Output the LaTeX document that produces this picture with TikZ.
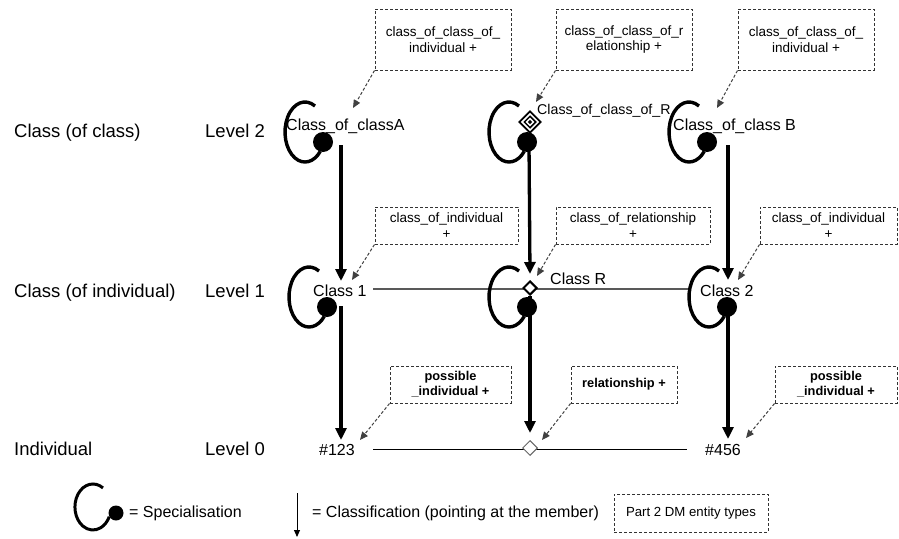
\documentclass[tikz,border=0pt]{standalone}
\usepackage{fontspec}
\setmainfont{Liberation Sans}
\usetikzlibrary{arrows.meta,shapes.geometric}
\begin{document}
\begin{tikzpicture}[x=1pt,y=-1pt,
  spec/.pic={\fill (0,0) circle (10);
    \draw[line width=3.4pt] (-8,-35.98) arc[start angle=-60,end angle=-320,x radius=20,y radius=30];},
  lbl/.style={font=\fontsize{18.5}{21}\selectfont, inner sep=0pt, anchor=base west},
  cls/.style={font=\fontsize{16}{19}\selectfont, inner sep=0pt, anchor=base west},
  dbox/.style={draw=black!80, dash pattern=on 3pt off 2pt, line width=1pt, align=center, inner sep=0pt, font=\fontsize{13.5}{15.5}\selectfont},
  bbox/.style={dbox, font=\fontsize{12.8}{15}\selectfont\bfseries},
  darrow/.style={draw=black!75, dash pattern=on 3pt off 2pt, line width=1pt, -{Triangle[length=8pt,width=7pt]}},
  clsarrow/.style={line width=3.3pt, -{Triangle[length=12pt,width=11pt]}},
  dia/.style={diamond, draw, inner sep=0pt, fill=white}
]
\useasboundingbox (0,0) rectangle (899,538);

% left labels
\node[lbl] (l2a) at (14,137) {Class (of class)};
\node[lbl] (l2b) at (205,137) {Level 2};
\node[lbl] (l1a) at (14,297) {Class (of individual)};
\node[lbl] (l1b) at (205,297) {Level 1};
\node[lbl] (l0a) at (14,455) {Individual};
\node[lbl] (l0b) at (205,455) {Level 0};

% coordinates
\coordinate (a1s) at (341,145); \coordinate (a1e) at (341,281);
\coordinate (b1s) at (341,306); \coordinate (b1e) at (341,440);
\coordinate (a2s) at (529,143); \coordinate (a2e) at (530,274);
\coordinate (b2s) at (530,296); \coordinate (b2e) at (530,433);
\coordinate (a3s) at (728,145); \coordinate (a3e) at (728,280);
\coordinate (b3s) at (728,307); \coordinate (b3e) at (728,439);
\coordinate (h1a) at (373,289); \coordinate (h1b) at (688,289);
\coordinate (h0a) at (373,449); \coordinate (h0b) at (687,449);

% horizontal relation lines
\draw[black!65, line width=1.2pt] (h1a) -- (h1b);
\draw[black, line width=0.9pt] (h0a) -- (h0b);

% specialisation symbols
\pic at (323,142) {spec};
\pic at (527,142) {spec};
\pic at (707,142) {spec};
\pic at (327,307) {spec};
\pic at (527,307) {spec};
\pic at (727,307) {spec};

% classification arrows
\draw[clsarrow] (a1s) -- (a1e);
\draw[clsarrow] (b1s) -- (b1e);
\draw[clsarrow] (a2s) -- (a2e);
\draw[clsarrow] (b2s) -- (b2e);
\draw[clsarrow] (a3s) -- (a3e);
\draw[clsarrow] (b3s) -- (b3e);

% diamonds
\node[dia, line width=1.8pt, minimum width=22pt, minimum height=22pt] (rr) at (530,122) {};
\node[dia, line width=1.5pt, minimum width=12pt, minimum height=12pt] (rri) at (rr) {};
\node[diamond, fill, inner sep=0pt, minimum width=4.5pt, minimum height=4.5pt] (rrc) at (rr) {};
\node[dia, line width=2pt, minimum width=14pt, minimum height=14pt] (r1) at (530,288) {};
\node[dia, draw=black!60, line width=1pt, minimum width=15pt, minimum height=15pt] (r0) at (530,448) {};

% class labels
\node[cls] (cA) at (286,130) {Class\_of\_classA};
\node[cls] (cB) at (673,130) {Class\_of\_class B};
\node[cls, font=\fontsize{14.2}{17}\selectfont] (cR) at (537,114) {Class\_of\_class\_of\_R};
\node[cls] (c1) at (313,296) {Class 1};
\node[cls] (c2) at (700,296) {Class 2};
\node[cls] (cr) at (550,284) {Class R};
\node[cls] (i1) at (319,455) {\#123};
\node[cls] (i2) at (705,455) {\#456};

% entity type boxes
\node[dbox, minimum width=136pt, minimum height=61pt] (t1) at (443,39.5) {class\_of\_class\_of\_\\individual +};
\node[dbox, minimum width=136pt, minimum height=61pt] (t2) at (624,39.5) {class\_of\_class\_of\_r\\elationship +};
\node[dbox, minimum width=136pt, minimum height=61pt] (t3) at (806,39.5) {class\_of\_class\_of\_\\individual +};
\node[dbox, minimum width=143pt, minimum height=37pt] (m1) at (446.5,225.5) {class\_of\_individual\\+};
\node[dbox, minimum width=154pt, minimum height=37pt] (m2) at (633,225.5) {class\_of\_relationship\\+};
\node[dbox, minimum width=137pt, minimum height=37pt] (m3) at (828.5,225.5) {class\_of\_individual\\+};
\node[bbox, minimum width=121pt, minimum height=37pt] (p1) at (450.5,384.5) {possible\\\_individual +};
\node[bbox, minimum width=106pt, minimum height=37pt] (p2) at (624,384.5) {relationship +};
\node[bbox, minimum width=122pt, minimum height=37pt] (p3) at (836,384.5) {possible\\\_individual +};

% dashed pointers
\coordinate (q1) at (353,108); \coordinate (q2) at (536,102); \coordinate (q3) at (717,108);
\coordinate (q4) at (352,280); \coordinate (q5) at (537,276); \coordinate (q6) at (738,280);
\coordinate (q7) at (360,440); \coordinate (q8) at (542,440); \coordinate (q9) at (746,438);
\draw[darrow] (t1.south west) -- (q1);
\draw[darrow] (t2.south west) -- (q2);
\draw[darrow] (t3.south west) -- (q3);
\draw[darrow] (m1.south west) -- (q4);
\draw[darrow] (m2.south west) -- (q5);
\draw[darrow] (m3.south west) -- (q6);
\draw[darrow] (p1.south west) -- (q7);
\draw[darrow] (p2.south west) -- (q8);
\draw[darrow] (p3.south west) -- (q9);

% legend
\fill (116,513) circle (7.5);
\draw[line width=3pt] (-13+116,-25.07+513) coordinate (lgs) arc[start angle=-56,end angle=-335,x radius=18,y radius=23];
\node[cls] (lspec) at (129,517) {= Specialisation};
\coordinate (la) at (297,493); \coordinate (lb) at (297,537);
\draw[line width=1pt, -{Triangle[length=7pt,width=6pt]}] (la) -- (lb);
\node[cls] (lcls) at (312,517) {= Classification (pointing at the member)};
\node[dbox, font=\fontsize{13.2}{15}\selectfont, minimum width=154pt, minimum height=38pt] (lg) at (691,513) {Part 2 DM entity types};
\end{tikzpicture}
\end{document}
